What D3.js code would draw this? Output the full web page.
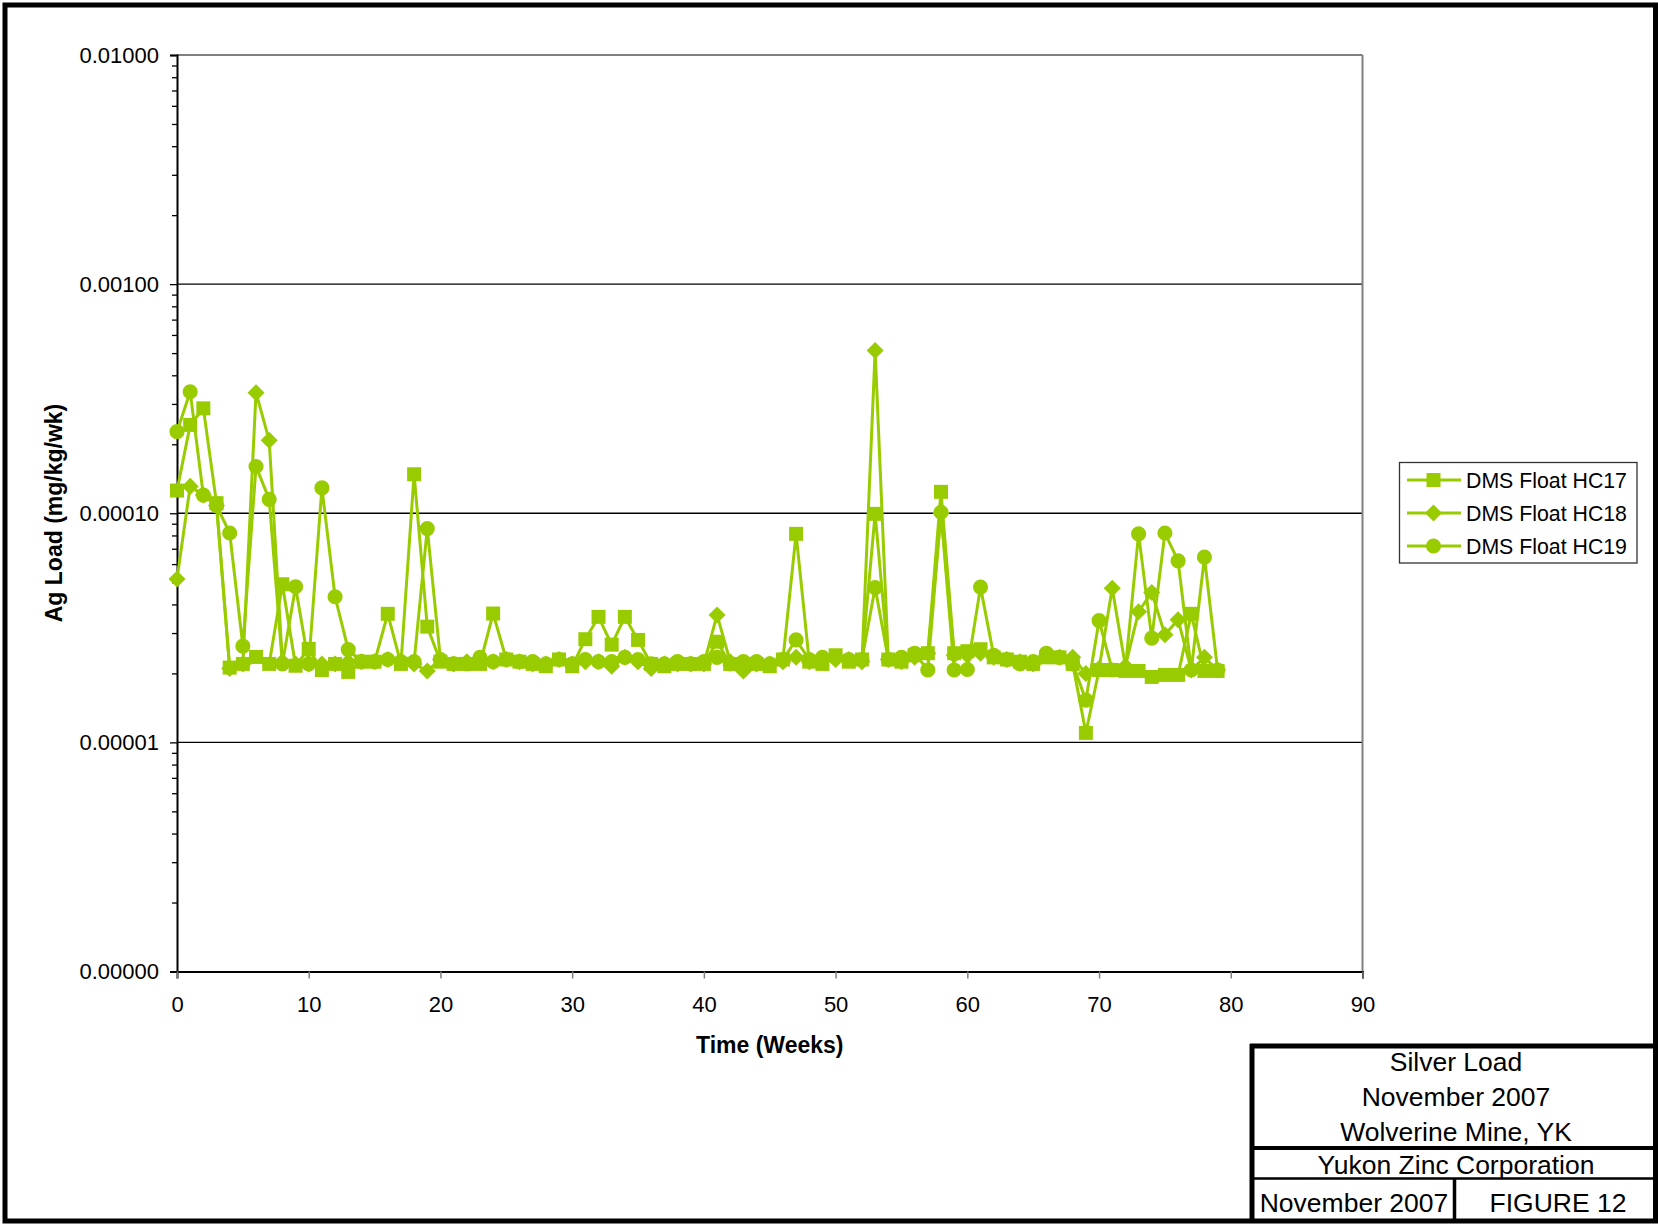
<!DOCTYPE html>
<html>
<head>
<meta charset="utf-8">
<script src="https://cdn.jsdelivr.net/npm/d3@7/dist/d3.min.js"></script>
<style>
  html, body { margin: 0; padding: 0; background: #fff; }
  svg { display: block; font-family: "Liberation Sans", Arial, Helvetica, sans-serif; }
</style>
</head>
<body>
<svg id="chart" width="1658" height="1225"></svg>
<script>
// ---- Data ----
const weeks = d3.range(0, 80);

const hc17 = [
  1.256e-4, 2.43e-4, 2.87e-4, 1.107e-4, 2.12e-5, 2.2e-5, 2.36e-5, 2.2e-5, 4.9e-5, 2.16e-5,
  2.56e-5, 2.07e-5, 2.2e-5, 2.03e-5, 2.25e-5, 2.25e-5, 3.64e-5, 2.2e-5, 1.48e-4, 3.2e-5,
  2.25e-5, 2.2e-5, 2.2e-5, 2.2e-5, 3.65e-5, 2.3e-5, 2.25e-5, 2.2e-5, 2.15e-5, 2.3e-5,
  2.15e-5, 2.82e-5, 3.53e-5, 2.67e-5, 3.53e-5, 2.8e-5, 2.2e-5, 2.15e-5, 2.2e-5, 2.2e-5,
  2.2e-5, 2.75e-5, 2.2e-5, 2.2e-5, 2.2e-5, 2.15e-5, 2.3e-5, 8.13e-5, 2.25e-5, 2.2e-5,
  2.4e-5, 2.25e-5, 2.3e-5, 9.94e-5, 2.3e-5, 2.25e-5, 2.4e-5, 2.45e-5, 1.24e-4, 2.45e-5,
  2.5e-5, 2.55e-5, 2.35e-5, 2.3e-5, 2.25e-5, 2.2e-5, 2.35e-5, 2.35e-5, 2.2e-5, 1.1e-5,
  2.07e-5, 2.07e-5, 2.05e-5, 2.05e-5, 1.93e-5, 1.97e-5, 1.97e-5, 3.64e-5, 2.05e-5, 2.05e-5
];

const hc18 = [
  5.17e-5, 1.31e-4, 1.2e-4, 1.08e-4, 2.1e-5, 2.2e-5, 3.36e-4, 2.08e-4, 2.25e-5, 2.2e-5,
  2.2e-5, 2.2e-5, 2.2e-5, 2.25e-5, 2.25e-5, 2.25e-5, 2.3e-5, 2.25e-5, 2.2e-5, 2.05e-5,
  2.3e-5, 2.2e-5, 2.25e-5, 2.25e-5, 2.25e-5, 2.3e-5, 2.25e-5, 2.2e-5, 2.2e-5, 2.3e-5,
  2.2e-5, 2.25e-5, 2.25e-5, 2.15e-5, 2.35e-5, 2.25e-5, 2.1e-5, 2.2e-5, 2.2e-5, 2.2e-5,
  2.2e-5, 3.6e-5, 2.25e-5, 2.05e-5, 2.2e-5, 2.2e-5, 2.25e-5, 2.35e-5, 2.25e-5, 2.3e-5,
  2.3e-5, 2.3e-5, 2.25e-5, 5.13e-4, 2.3e-5, 2.25e-5, 2.35e-5, 2.45e-5, 1.0e-4, 2.4e-5,
  2.4e-5, 2.45e-5, 2.35e-5, 2.3e-5, 2.25e-5, 2.2e-5, 2.4e-5, 2.35e-5, 2.35e-5, 2.0e-5,
  2.1e-5, 4.71e-5, 2.15e-5, 3.72e-5, 4.51e-5, 2.95e-5, 3.43e-5, 2.07e-5, 2.35e-5, 2.07e-5
];

const hc19 = [
  2.27e-4, 3.39e-4, 1.2e-4, 1.08e-4, 8.2e-5, 2.63e-5, 1.6e-4, 1.15e-4, 2.2e-5, 4.78e-5,
  2.2e-5, 1.29e-4, 4.32e-5, 2.54e-5, 2.25e-5, 2.25e-5, 2.3e-5, 2.25e-5, 2.25e-5, 8.57e-5,
  2.3e-5, 2.2e-5, 2.2e-5, 2.35e-5, 2.25e-5, 2.3e-5, 2.25e-5, 2.25e-5, 2.2e-5, 2.3e-5,
  2.2e-5, 2.3e-5, 2.25e-5, 2.25e-5, 2.35e-5, 2.3e-5, 2.2e-5, 2.2e-5, 2.25e-5, 2.2e-5,
  2.25e-5, 2.35e-5, 2.2e-5, 2.25e-5, 2.25e-5, 2.2e-5, 2.3e-5, 2.8e-5, 2.3e-5, 2.35e-5,
  2.35e-5, 2.3e-5, 2.3e-5, 4.74e-5, 2.3e-5, 2.35e-5, 2.45e-5, 2.07e-5, 1.01e-4, 2.07e-5,
  2.08e-5, 4.76e-5, 2.4e-5, 2.3e-5, 2.2e-5, 2.25e-5, 2.45e-5, 2.35e-5, 2.2e-5, 1.53e-5,
  3.4e-5, 2.07e-5, 2.1e-5, 8.13e-5, 2.85e-5, 8.2e-5, 6.2e-5, 2.07e-5, 6.43e-5, 2.07e-5
];

const seriesNames = ["DMS Float HC17", "DMS Float HC18", "DMS Float HC19"];
const seriesSymbols = ["square", "diamond", "circle"];
const xTicks = [0, 10, 20, 30, 40, 50, 60, 70, 80, 90];
const yTicks = [1e-6, 1e-5, 1e-4, 1e-3, 1e-2];
const yTickLabels = ["0.00000", "0.00001", "0.00010", "0.00100", "0.01000"];
const xTitle = "Time (Weeks)";
const yTitle = "Ag Load (mg/kg/wk)";
const titleLines = ["Silver Load", "November 2007", "Wolverine Mine, YK"];
const company = "Yukon Zinc Corporation";
const dateText = "November 2007";
const figureText = "FIGURE 12";

// ---- Layout ----
const svg = d3.select("#chart");
const color = "#99CC00";
const plot = { left: 177, right: 1362.5, top: 55, bottom: 971.5 };

const x = d3.scaleLinear().domain([0, 90]).range([plot.left, plot.right]);
const y = d3.scaleLog().domain([1e-6, 1e-2]).range([plot.bottom, plot.top]);

// Outer frame
svg.append("rect").attr("x", 5).attr("y", 5).attr("width", 1650.5).attr("height", 1216)
  .attr("fill", "none").attr("stroke", "#000").attr("stroke-width", 5);

// Gridlines (major decades inside)
svg.append("g").selectAll("line").data([1e-5, 1e-4, 1e-3]).join("line")
  .attr("x1", plot.left).attr("x2", plot.right)
  .attr("y1", d => y(d)).attr("y2", d => y(d))
  .attr("stroke", "#000").attr("stroke-width", 1.3);

// Plot border top & right (gray)
svg.append("line").attr("x1", plot.left).attr("x2", plot.right).attr("y1", plot.top).attr("y2", plot.top)
  .attr("stroke", "#808080").attr("stroke-width", 2);
svg.append("line").attr("x1", plot.right).attr("x2", plot.right).attr("y1", plot.top).attr("y2", plot.bottom)
  .attr("stroke", "#808080").attr("stroke-width", 2);

// Y axis: major ticks with labels
const yAxis = d3.axisLeft(y).tickValues(yTicks)
  .tickFormat((d, i) => yTickLabels[i]).tickSize(7).tickPadding(11);
const gy = svg.append("g").attr("transform", `translate(${plot.left},0)`).call(yAxis);
gy.select(".domain").attr("stroke", "#000").attr("stroke-width", 2);
gy.selectAll(".tick line").attr("stroke", "#000").attr("stroke-width", 1.3);
gy.selectAll(".tick text").attr("font-size", 22).attr("fill", "#000")
  .attr("font-family", "Liberation Sans, Arial, sans-serif");

// Y minor ticks
const minor = [];
for (let e = -6; e < -2; e++) for (let m = 2; m <= 9; m++) minor.push(m * Math.pow(10, e));
const yMinor = d3.axisLeft(y).tickValues(minor).tickFormat("").tickSize(5);
const gym = svg.append("g").attr("transform", `translate(${plot.left},0)`).call(yMinor);
gym.select(".domain").remove();
gym.selectAll(".tick line").attr("stroke", "#000").attr("stroke-width", 1.3);

// X axis
const xAxis = d3.axisBottom(x).tickValues(xTicks).tickSize(7).tickPadding(18);
const gx = svg.append("g").attr("transform", `translate(0,${plot.bottom})`).call(xAxis);
gx.select(".domain").attr("stroke", "#000").attr("stroke-width", 2);
gx.selectAll(".tick line").attr("stroke", "#808080").attr("stroke-width", 1.5);
gx.selectAll(".tick text").attr("font-size", 22).attr("fill", "#000")
  .attr("font-family", "Liberation Sans, Arial, sans-serif");

// Axis titles
svg.append("text").attr("x", (plot.left + plot.right) / 2).attr("y", 1053)
  .attr("text-anchor", "middle").attr("font-size", 23).attr("font-weight", "bold").text(xTitle);
svg.append("text").attr("transform", "translate(62,513) rotate(-90)")
  .attr("text-anchor", "middle").attr("font-size", 23).attr("font-weight", "bold").text(yTitle);

// Series
const allSeries = [hc17, hc18, hc19];
const symbolTypes = { square: d3.symbolSquare, diamond: d3.symbolSquare, circle: d3.symbolCircle };
const symbolSizes = { square: 196, diamond: 145, circle: 180 };
const symbolRot = { square: 0, diamond: 45, circle: 0 };
const line = d3.line().x((d, i) => x(weeks[i])).y(d => y(d));

const gs = svg.append("g");
allSeries.forEach((vals, si) => {
  gs.append("path").datum(vals).attr("d", line)
    .attr("fill", "none").attr("stroke", color).attr("stroke-width", 3).attr("stroke-linejoin", "miter");
});
allSeries.forEach((vals, si) => {
  const s = seriesSymbols[si];
  const sym = d3.symbol().type(symbolTypes[s]).size(symbolSizes[s]);
  gs.append("g").selectAll("path").data(vals).join("path")
    .attr("transform", (d, i) => `translate(${x(weeks[i])},${y(d)}) rotate(${symbolRot[s]})`)
    .attr("d", sym).attr("fill", color).attr("stroke", "none");
});

// Legend
const lg = svg.append("g");
lg.append("rect").attr("x", 1399.5).attr("y", 462.5).attr("width", 237.5).attr("height", 100.5)
  .attr("fill", "#fff").attr("stroke", "#333").attr("stroke-width", 1.3);
const legendY = [480, 513, 546];
seriesNames.forEach((name, i) => {
  const ly = legendY[i];
  const s = seriesSymbols[i];
  lg.append("line").attr("x1", 1407).attr("x2", 1461).attr("y1", ly).attr("y2", ly)
    .attr("stroke", color).attr("stroke-width", 3);
  const sym = d3.symbol().type(symbolTypes[s]).size(symbolSizes[s]);
  lg.append("path").attr("transform", `translate(1433.5,${ly}) rotate(${symbolRot[s]})`).attr("d", sym).attr("fill", color);
  lg.append("text").attr("x", 1466).attr("y", ly + 7.5).attr("font-size", 21.3).attr("fill", "#000").text(name);
});

// Title block
const tb = svg.append("g");
const tbx = 1252, tbRight = 1656;
tb.append("line").attr("x1", tbx - 2).attr("x2", tbRight).attr("y1", 1046).attr("y2", 1046)
  .attr("stroke", "#000").attr("stroke-width", 5);
tb.append("line").attr("x1", tbx).attr("x2", tbx).attr("y1", 1044).attr("y2", 1221)
  .attr("stroke", "#000").attr("stroke-width", 5);
tb.append("line").attr("x1", tbx).attr("x2", tbRight).attr("y1", 1148).attr("y2", 1148)
  .attr("stroke", "#000").attr("stroke-width", 4);
tb.append("line").attr("x1", tbx).attr("x2", tbRight).attr("y1", 1178.5).attr("y2", 1178.5)
  .attr("stroke", "#000").attr("stroke-width", 2.5);
tb.append("line").attr("x1", 1454.5).attr("x2", 1454.5).attr("y1", 1178).attr("y2", 1221)
  .attr("stroke", "#000").attr("stroke-width", 3.5);

const tcx = 1456;
const titleY = [1070.5, 1105.5, 1140.5];
const tfs = 26.5;
titleLines.forEach((t, i) => {
  tb.append("text").attr("x", tcx).attr("y", titleY[i]).attr("text-anchor", "middle")
    .attr("font-size", tfs).attr("fill", "#000").text(t);
});
tb.append("text").attr("x", tcx).attr("y", 1174).attr("text-anchor", "middle")
  .attr("font-size", tfs).attr("fill", "#000").text(company);
tb.append("text").attr("x", 1354).attr("y", 1211.5).attr("text-anchor", "middle")
  .attr("font-size", tfs).attr("fill", "#000").text(dateText);
tb.append("text").attr("x", 1558).attr("y", 1211.5).attr("text-anchor", "middle")
  .attr("font-size", tfs).attr("fill", "#000").text(figureText);
</script>
</body>
</html>
